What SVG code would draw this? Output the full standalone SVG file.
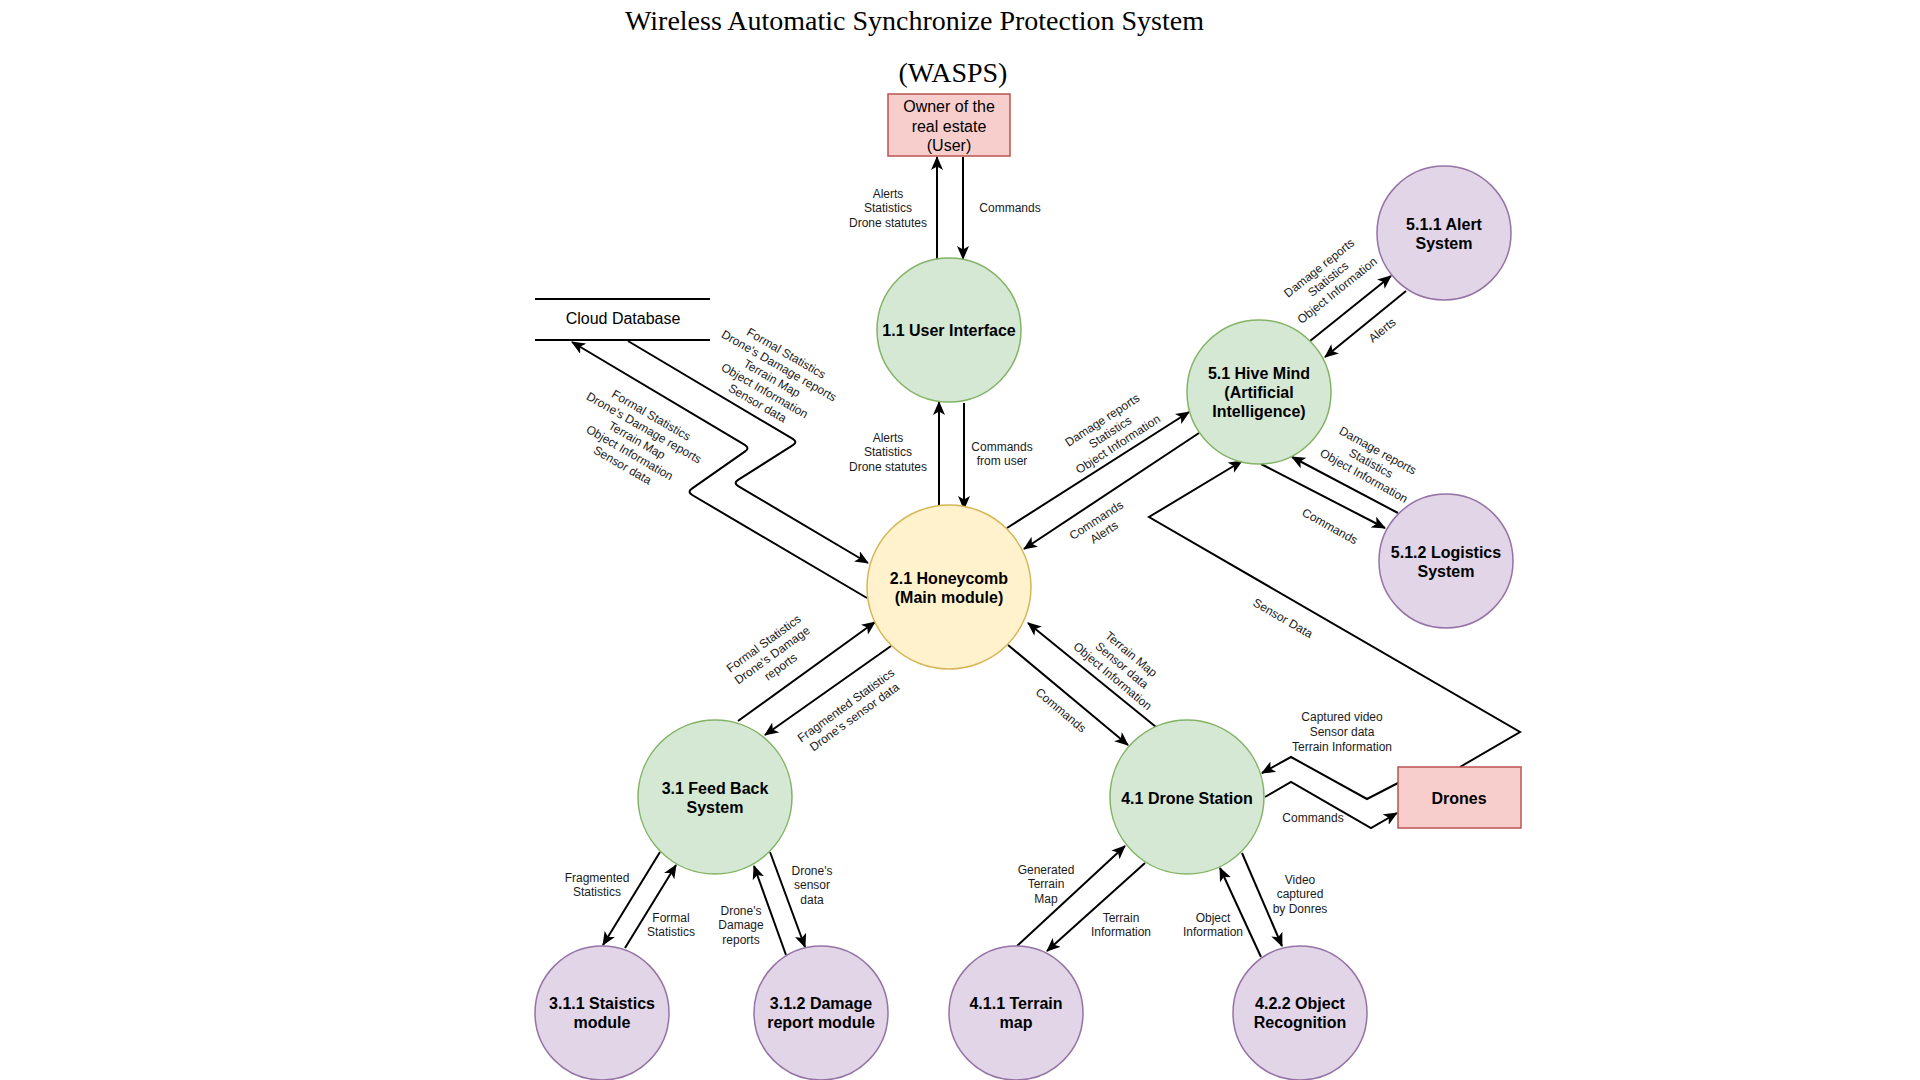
<svg xmlns="http://www.w3.org/2000/svg" width="1920" height="1080" viewBox="0 0 1920 1080">
<style>
.title{font-family:"Liberation Serif","Times New Roman",serif;font-size:28px;fill:#000;text-anchor:middle}
.nl{font-family:"Liberation Sans",Arial,sans-serif;font-size:16px;font-weight:bold;fill:#000;text-anchor:middle}
.nr{font-family:"Liberation Sans",Arial,sans-serif;font-size:16px;fill:#000;text-anchor:middle}
.el{font-family:"Liberation Sans",Arial,sans-serif;font-size:12px;fill:#1a1a1a;text-anchor:middle}
.green{fill:#d5e8d4;stroke:#82b366;stroke-width:1.5}
.purple{fill:#e1d5e7;stroke:#9673a6;stroke-width:1.5}
.yellow{fill:#fff2cc;stroke:#d6b656;stroke-width:1.5}
.red{fill:#f8cecc;stroke:#b85450;stroke-width:1.5}
.c{fill:none;stroke:#000;stroke-width:2;stroke-linejoin:miter}
.a{marker-end:url(#arr)}
.store{stroke:#000;stroke-width:2}
</style>
<defs>
<marker id="arr" markerUnits="userSpaceOnUse" viewBox="0 0 14 12" markerWidth="14" markerHeight="12" refX="13" refY="6" orient="auto">
<path d="M0,0 L14,6 L0,12 L3.5,6 z" fill="#000"/>
</marker>
</defs>
<rect width="1920" height="1080" fill="#fff"/>

<g id="title">
<text class="title" x="914.5" y="30">Wireless Automatic Synchronize Protection System</text>
<text class="title" x="953" y="82">(WASPS)</text>
</g>

<g id="connectors">
<path class="c a" d="M937,263 L937,157"/>
<path class="c a" d="M963,157 L963,259"/>
<path class="c a" d="M939,506 L939,402"/>
<path class="c a" d="M964,403 L964,509"/>
<path class="c a" d="M628,341 L792.8,438.9 Q798,442 792.9,445.2 L738.1,479.8 Q733,483 738.2,486.1 L868,563"/>
<path class="c a" d="M867,598 L692.2,495 Q687,492 691.9,488.6 L745.1,451.4 Q750,448 744.8,444.9 L572,342"/>
<path class="c a" d="M1007,528 L1189,412"/>
<path class="c a" d="M1199,433 L1024,549"/>
<path class="c a" d="M1310,341 L1391,276"/>
<path class="c a" d="M1406,291 L1325,357"/>
<path class="c a" d="M1261,464 L1385,528"/>
<path class="c a" d="M1398,513 L1292,457"/>
<path class="c a" d="M1460,767 L1520,732 L1149,517 L1242,461"/>
<path class="c a" d="M1265,797 L1291,782 L1371,828 L1397,813"/>
<path class="c a" d="M1398,783 L1367,799 L1291,757 L1262,773"/>
<path class="c a" d="M1008,645 L1128,745"/>
<path class="c a" d="M1156,727 L1028,623"/>
<path class="c a" d="M738,721 L875,622"/>
<path class="c a" d="M891,646 L765,735"/>
<path class="c a" d="M660,852 L603,945"/>
<path class="c a" d="M625,948 L676,865"/>
<path class="c a" d="M786,955 L754,866"/>
<path class="c a" d="M770,852 L805,947"/>
<path class="c a" d="M1017,946 L1125,846"/>
<path class="c a" d="M1145,863 L1047,951"/>
<path class="c a" d="M1261,957 L1220,868"/>
<path class="c a" d="M1242,853 L1282,946"/>
</g>

<g id="edge-labels">
<text class="el"><tspan x="888" y="198">Alerts</tspan><tspan x="888" y="212">Statistics</tspan><tspan x="888" y="227">Drone statutes</tspan></text>
<text class="el" x="1010" y="212">Commands</text>
<text class="el"><tspan x="888" y="442">Alerts</tspan><tspan x="888" y="456">Statistics</tspan><tspan x="888" y="471">Drone statutes</tspan></text>
<text class="el"><tspan x="1002" y="451">Commands</tspan><tspan x="1002" y="465">from user</tspan></text>
<text class="el" transform="translate(772,378) rotate(30)"><tspan x="0" y="-24.5">Formal Statistics</tspan><tspan x="0" y="-10.1">Drone's Damage reports</tspan><tspan x="0" y="4.3">Terrain Map</tspan><tspan x="0" y="18.7">Object Information</tspan><tspan x="0" y="33.1">Sensor data</tspan></text>
<text class="el" transform="translate(637,440) rotate(30)"><tspan x="0" y="-24.5">Formal Statistics</tspan><tspan x="0" y="-10.1">Drone's Damage reports</tspan><tspan x="0" y="4.3">Terrain Map</tspan><tspan x="0" y="18.7">Object Information</tspan><tspan x="0" y="33.1">Sensor data</tspan></text>
<text class="el" transform="translate(1110,432) rotate(-33)"><tspan x="0" y="-10.1">Damage reports</tspan><tspan x="0" y="4.3">Statistics</tspan><tspan x="0" y="18.7">Object Information</tspan></text>
<text class="el" transform="translate(1100,526) rotate(-33)"><tspan x="0" y="-2.9">Commands</tspan><tspan x="0" y="11.5">Alerts</tspan></text>
<text class="el" transform="translate(1328,279) rotate(-38.7)"><tspan x="0" y="-10.1">Damage reports</tspan><tspan x="0" y="4.3">Statistics</tspan><tspan x="0" y="18.7">Object Information</tspan></text>
<text class="el" transform="translate(1382,330) rotate(-38.7)"><tspan x="0" y="4.3">Alerts</tspan></text>
<text class="el" transform="translate(1371,463) rotate(29)"><tspan x="0" y="-10.1">Damage reports</tspan><tspan x="0" y="4.3">Statistics</tspan><tspan x="0" y="18.7">Object Information</tspan></text>
<text class="el" transform="translate(1330,526) rotate(29)"><tspan x="0" y="4.3">Commands</tspan></text>
<text class="el" transform="translate(1283,618) rotate(30)"><tspan x="0" y="4.3">Sensor Data</tspan></text>
<text class="el"><tspan x="1342" y="721">Captured video</tspan><tspan x="1342" y="736">Sensor data</tspan><tspan x="1342" y="751">Terrain Information</tspan></text>
<text class="el" x="1313" y="822">Commands</text>
<text class="el" transform="translate(1061,710) rotate(40)"><tspan x="0" y="4.3">Commands</tspan></text>
<text class="el" transform="translate(1122,665) rotate(40)"><tspan x="0" y="-10.1">Terrain Map</tspan><tspan x="0" y="4.3">Sensor data</tspan><tspan x="0" y="18.7">Object Information</tspan></text>
<text class="el" transform="translate(772,655) rotate(-36)"><tspan x="0" y="-10.1">Formal Statistics</tspan><tspan x="0" y="4.3">Drone's Damage</tspan><tspan x="0" y="18.7">reports</tspan></text>
<text class="el" transform="translate(850,711) rotate(-36)"><tspan x="0" y="-2.9">Fragmented Statistics</tspan><tspan x="0" y="11.5">Drone's sensor data</tspan></text>
<text class="el"><tspan x="597" y="882">Fragmented</tspan><tspan x="597" y="896">Statistics</tspan></text>
<text class="el"><tspan x="671" y="922">Formal</tspan><tspan x="671" y="936">Statistics</tspan></text>
<text class="el"><tspan x="741" y="915">Drone's</tspan><tspan x="741" y="929">Damage</tspan><tspan x="741" y="944">reports</tspan></text>
<text class="el"><tspan x="812" y="875">Drone's</tspan><tspan x="812" y="889">sensor</tspan><tspan x="812" y="904">data</tspan></text>
<text class="el"><tspan x="1046" y="874">Generated</tspan><tspan x="1046" y="888">Terrain</tspan><tspan x="1046" y="903">Map</tspan></text>
<text class="el"><tspan x="1121" y="922">Terrain</tspan><tspan x="1121" y="936">Information</tspan></text>
<text class="el"><tspan x="1213" y="922">Object</tspan><tspan x="1213" y="936">Information</tspan></text>
<text class="el"><tspan x="1300" y="884">Video</tspan><tspan x="1300" y="898">captured</tspan><tspan x="1300" y="913">by Donres</tspan></text>
</g>

<g id="owner">
<rect class="red" x="888" y="94" width="122" height="62"/>
<text class="nr"><tspan x="949" y="112">Owner of the</tspan><tspan x="949" y="132">real estate</tspan><tspan x="949" y="151">(User)</tspan></text>
</g>
<g id="cloud-database">
<line class="store" x1="535" y1="299" x2="710" y2="299"/>
<line class="store" x1="535" y1="340" x2="710" y2="340"/>
<text class="nr" x="623" y="324">Cloud Database</text>
</g>
<g id="user-interface">
<circle class="green" cx="949" cy="330" r="72"/>
<text class="nl" x="949" y="336">1.1 User Interface</text>
</g>
<g id="hive-mind">
<circle class="green" cx="1259" cy="392" r="72"/>
<text class="nl"><tspan x="1259" y="379">5.1 Hive Mind</tspan><tspan x="1259" y="398">(Artificial</tspan><tspan x="1259" y="417">Intelligence)</tspan></text>
</g>
<g id="alert-system">
<circle class="purple" cx="1444" cy="233" r="67"/>
<text class="nl"><tspan x="1444" y="230">5.1.1 Alert</tspan><tspan x="1444" y="249">System</tspan></text>
</g>
<g id="logistics-system">
<circle class="purple" cx="1446" cy="561" r="67"/>
<text class="nl"><tspan x="1446" y="558">5.1.2 Logistics</tspan><tspan x="1446" y="577">System</tspan></text>
</g>
<g id="honeycomb">
<circle class="yellow" cx="949" cy="587" r="82"/>
<text class="nl"><tspan x="949" y="584">2.1 Honeycomb</tspan><tspan x="949" y="603">(Main module)</tspan></text>
</g>
<g id="feed-back">
<circle class="green" cx="715" cy="797" r="77"/>
<text class="nl"><tspan x="715" y="794">3.1 Feed Back</tspan><tspan x="715" y="813">System</tspan></text>
</g>
<g id="drone-station">
<circle class="green" cx="1187" cy="797" r="77"/>
<text class="nl" x="1187" y="804">4.1 Drone Station</text>
</g>
<g id="drones">
<rect class="red" x="1398" y="767" width="123" height="61"/>
<text class="nl" x="1459" y="804">Drones</text>
</g>
<g id="statistics-module">
<circle class="purple" cx="602" cy="1013" r="67"/>
<text class="nl"><tspan x="602" y="1009">3.1.1 Staistics</tspan><tspan x="602" y="1028">module</tspan></text>
</g>
<g id="damage-report-module">
<circle class="purple" cx="821" cy="1013" r="67"/>
<text class="nl"><tspan x="821" y="1009">3.1.2 Damage</tspan><tspan x="821" y="1028">report module</tspan></text>
</g>
<g id="terrain-map">
<circle class="purple" cx="1016" cy="1013" r="67"/>
<text class="nl"><tspan x="1016" y="1009">4.1.1 Terrain</tspan><tspan x="1016" y="1028">map</tspan></text>
</g>
<g id="object-recognition">
<circle class="purple" cx="1300" cy="1013" r="67"/>
<text class="nl"><tspan x="1300" y="1009">4.2.2 Object</tspan><tspan x="1300" y="1028">Recognition</tspan></text>
</g>
</svg>
